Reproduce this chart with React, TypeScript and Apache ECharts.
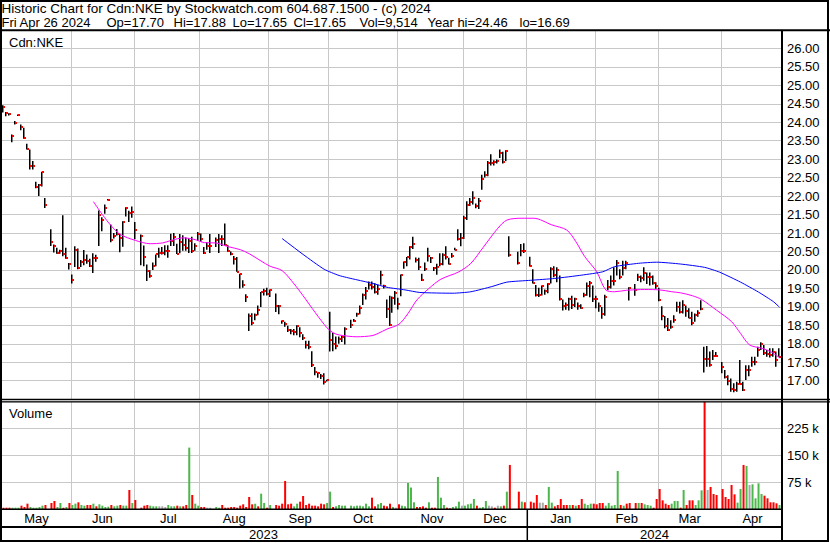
import React, { useEffect, useRef } from "react";
import * as echarts from "echarts";

// ---- data (one slot per weekday, 2023-05-01 .. 2024-04-26; null = exchange holiday) ----
const hi = [
  24.46, 24.28, 24.24, 23.67, 24.03, 24.21, 23.94, 23.85, 23.42, 23.26,
  22.95, 22.39, 22.33, 22.66, 21.95, null, 21.10, 20.69, 20.60, 20.55,
  21.48, 20.60, 20.19, 19.88, 20.64, 20.58, 20.27, 20.54, 20.42, 20.30,
  20.45, 20.41, 21.61, 21.43, 21.77, 21.92, 21.23, 21.00, 21.11, 20.98,
  21.32, 21.70, 21.60, 21.72, 21.30, null, 20.96, 20.66, 20.15, 19.99,
  20.20, 20.42, 20.60, 20.62, 20.67, 20.67, 20.98, 21.00, 20.71, 20.97,
  20.94, 20.88, 20.85, 20.90, 20.72, 21.03, 20.99, 20.62, 20.75, 20.97,
  null, 20.88, 20.97, 20.94, 21.26, 20.67, 20.50, 20.38, 20.35, 19.90,
  19.72, 19.34, 18.82, 18.83, 18.82, 19.04, 19.40, 19.49, 19.52, 19.47,
  null, 19.36, 19.05, 18.63, 18.60, 18.49, 18.40, 18.40, 18.50, 18.45,
  18.26, 18.08, 18.08, 17.80, 17.37, 17.22, 17.18, 17.20, 17.03, 18.87,
  18.30, 18.20, 18.20, 18.22, 18.45, null, 18.65, 18.67, 18.84, 19.04,
  19.36, 19.54, 19.69, 19.69, 19.64, 19.60, 19.98, 19.60, 19.20, 19.30,
  19.28, 19.43, 19.25, 19.88, 20.23, 20.35, 20.64, 20.90, 20.34, 20.33,
  19.90, 20.20, 20.60, 20.35, 20.08, 20.17, 20.45, 20.45, 20.64, 20.33,
  20.46, 20.60, 21.10, 21.00, 21.47, 21.86, 21.95, 22.13, 21.80, 21.95,
  22.58, 22.67, 22.95, 23.13, 22.97, 22.99, 23.26, 23.20, 23.24, 20.91,
  null, null, 20.49, 20.70, 20.72, null, 20.36, 20.02, 19.59, 19.52,
  19.58, 19.47, 19.64, 20.07, 20.10, 20.07, 19.85, 19.20, 19.12, 19.25,
  19.30, 19.25, 19.12, 19.07, 19.38, 19.66, 19.70, 19.58, 19.30, 19.12,
  19.00, 19.33, 19.73, 19.85, 20.07, 20.27, 20.02, 20.25, 20.25, 19.53,
  null, 19.62, 19.90, 19.85, 20.07, 19.93, 19.93, 19.85, 19.67, 19.52,
  19.02, 18.75, 18.70, 18.64, 18.77, 19.14, 19.14, 19.18, 19.04, 18.96,
  18.87, 18.82, 18.91, 19.18, 17.92, 17.94, 17.79, 17.83, 17.78, null,
  17.51, 17.29, 17.15, 17.06, 16.93, 16.97, 17.56, 16.97, 17.42, 17.42,
  17.65, 17.65, 17.92, 18.04, 17.97, 17.83, 17.88, 17.88, 17.79, 17.88,
];
const lo = [
  24.26, 24.16, 24.18, 23.46, 23.94, 24.17, 23.78, 23.55, 23.26, 22.72,
  22.72, 22.21, 22.00, 22.26, 21.68, null, 20.65, 20.47, 20.44, 20.44,
  20.37, 20.30, 20.01, 19.63, 20.08, 20.02, 20.08, 20.13, 20.17, 20.08,
  19.92, 20.22, 20.65, 21.05, 21.52, 21.88, 20.75, 20.85, 20.93, 20.48,
  20.63, 21.45, 21.30, 21.41, 20.83, null, 20.13, 20.10, 19.70, 19.79,
  20.00, 20.10, 20.33, 20.42, 20.40, 20.33, 20.65, 20.65, 20.43, 20.45,
  20.52, 20.52, 20.46, 20.46, 20.52, 20.79, 20.76, 20.43, 20.55, 20.46,
  null, 20.62, 20.46, 20.65, 20.67, 20.49, 20.40, 20.15, 19.95, 19.50,
  19.52, 19.13, 18.35, 18.50, 18.64, 18.77, 19.00, 19.31, 19.31, 19.27,
  null, 18.86, 18.80, 18.54, 18.46, 18.32, 18.26, 18.23, 18.23, 18.18,
  18.10, 17.87, 17.85, 17.37, 17.15, 17.08, 17.05, 16.90, 16.98, 17.79,
  17.80, 17.85, 18.00, 18.05, 17.98, null, 18.43, 18.60, 18.73, 18.80,
  19.05, 19.20, 19.47, 19.47, 19.36, 19.33, 19.60, 19.50, 18.70, 18.48,
  18.84, 19.06, 18.93, 19.29, 20.03, 20.10, 20.28, 20.57, 20.20, 20.00,
  19.70, 19.97, 20.23, 20.19, 19.97, 19.87, 20.10, 20.13, 20.28, 20.15,
  20.33, 20.53, 20.80, 20.64, 20.84, 21.35, 21.73, 21.77, 21.67, 21.65,
  22.17, 22.50, 22.54, 22.83, 22.83, 22.88, 23.03, 22.88, 22.95, 20.36,
  null, null, 20.15, 20.37, 20.46, null, 20.09, 19.63, 19.28, 19.27,
  19.31, 19.33, 19.37, 19.63, 19.80, 19.67, 19.17, 18.90, 18.92, 18.90,
  18.94, 19.00, 18.92, 18.95, 19.26, 19.30, 19.26, 19.13, 18.96, 18.87,
  18.68, 18.76, 19.45, 19.50, 19.58, 19.85, 19.75, 19.85, 20.02, 19.17,
  null, 19.30, 19.70, 19.67, 19.71, 19.62, 19.58, 19.60, 19.49, 19.15,
  18.64, 18.42, 18.35, 18.41, 18.57, 18.87, 18.82, 18.82, 18.73, 18.69,
  18.50, 18.60, 18.73, 18.91, 17.22, 17.38, 17.38, 17.56, 17.65, null,
  17.20, 17.06, 16.88, 16.70, 16.69, 16.70, 16.90, 16.72, 17.02, 17.12,
  17.38, 17.42, 17.65, 17.83, 17.70, 17.65, 17.63, 17.65, 17.38, 17.65,
];
const cl = [
  24.41, 24.26, 24.21, 23.63, 23.99, 24.19, 23.86, 23.57, 23.28, 22.81,
  22.81, 22.25, 22.30, 22.66, 21.76, null, 20.75, 20.66, 20.46, 20.50,
  20.42, 20.31, 20.15, 19.74, 20.53, 20.06, 20.22, 20.27, 20.25, 20.10,
  20.33, 20.32, 21.50, 21.36, 21.68, 21.90, 20.80, 20.92, 20.98, 20.86,
  21.30, 21.67, 21.53, 21.57, 21.09, null, 20.93, 20.35, 19.97, 19.84,
  20.10, 20.42, 20.45, 20.45, 20.50, 20.50, 20.78, 20.90, 20.43, 20.75,
  20.67, 20.59, 20.78, 20.50, 20.64, 20.96, 20.84, 20.47, 20.65, 20.65,
  null, 20.80, 20.83, 20.85, 20.67, 20.51, 20.44, 20.30, 19.95, 19.90,
  19.58, 19.28, 18.76, 18.57, 18.79, 18.92, 19.40, 19.43, 19.34, 19.45,
  null, 19.02, 19.02, 18.61, 18.53, 18.37, 18.35, 18.31, 18.48, 18.30,
  18.15, 17.97, 17.91, 17.43, 17.23, 17.20, 17.12, 16.96, 17.01, 18.11,
  18.00, 17.95, 18.14, 18.18, 18.40, null, 18.50, 18.63, 18.80, 18.98,
  19.33, 19.44, 19.60, 19.53, 19.41, 19.48, 19.86, 19.57, 18.93, 18.52,
  19.23, 19.37, 19.08, 19.85, 20.22, 20.35, 20.63, 20.70, 20.27, 20.09,
  19.73, 20.03, 20.38, 20.33, 20.06, 20.09, 20.15, 20.40, 20.36, 20.16,
  20.38, 20.54, 20.83, 20.86, 21.42, 21.77, 21.85, 21.94, 21.72, 21.87,
  22.45, 22.58, 22.90, 22.90, 22.92, 22.95, 23.17, 22.92, 23.22, 20.40,
  null, null, 20.19, 20.52, 20.50, null, 20.10, 19.65, 19.31, 19.31,
  19.56, 19.42, 19.61, 20.02, 19.85, 20.00, 19.21, 19.03, 19.05, 19.20,
  19.05, 19.20, 19.03, 18.98, 19.33, 19.56, 19.65, 19.20, 19.22, 19.02,
  18.80, 19.28, 19.55, 19.70, 19.70, 20.20, 19.80, 20.05, 20.18, 19.50,
  null, 19.47, 19.80, 19.77, 19.92, 19.82, 19.82, 19.65, 19.56, 19.18,
  18.75, 18.49, 18.38, 18.46, 18.64, 19.00, 18.86, 19.04, 18.88, 18.71,
  18.55, 18.77, 18.84, 18.95, 17.60, 17.60, 17.43, 17.66, 17.66, null,
  17.37, 17.10, 17.00, 16.78, 16.74, 16.90, 16.92, 16.74, 17.30, 17.30,
  17.52, 17.52, 17.84, 17.99, 17.76, 17.73, 17.70, 17.77, 17.57, 17.65,
];
// volume in thousands of shares
const volK = [
  3.7, 3.7, 3.7, 3.7, 3.7, 3.7, 9.3, 5.6, 14.9, 5.6,
  3.7, 3.7, 5.6, 9.3, 11.2, null, 16.8, 22.4, 5.6, 16.8,
  3.7, 5.6, 16.8, 11.2, 14.9, 18.7, 11.2, 9.3, 11.2, 11.2,
  14.9, 7.5, 13.1, 9.3, 5.6, 6.5, 11.2, 7.5, 9.3, 11.2,
  9.3, 9.3, 53.2, 16.8, 25.2, null, 3.7, 9.3, 11.2, 9.3,
  7.5, 7.5, 7.5, 7.5, 5.6, 11.2, 7.5, 7.5, 9.3, 7.5,
  7.5, 11.2, 171.7, 39.2, 14.9, 9.3, 5.6, 5.6, 3.7, 3.7,
  null, 5.6, 3.7, 11.2, 3.7, 3.7, 5.6, 5.6, 3.7, 9.3,
  13.1, 5.6, 33.6, 13.1, 14.9, 7.5, 42.9, 16.8, 3.7, 11.2,
  null, 11.2, 9.3, 14.9, 78.4, 13.1, 14.9, 7.5, 14.9, 20.5,
  36.4, 11.2, 14.9, 9.3, 9.3, 7.5, 14.9, 13.1, 16.8, 48.5,
  5.6, 7.5, 11.2, 9.3, 9.3, null, 9.3, 7.5, 9.3, 9.3,
  7.5, 14.9, 7.5, 31.7, 7.5, 13.1, 16.8, 9.3, 7.5, 14.9,
  5.6, 3.7, 13.1, 9.3, 7.5, 72.8, 60, 18.7, 5.6, 5.6,
  7.5, 3.7, 18.7, 3.7, 3.7, 89.6, 31.7, 11.2, 3.7, 1.9,
  5.6, 7.5, 20.5, 9.3, 9.3, 13.1, 14.9, 28, 9.3, 3.7,
  5.6, 22.4, 9.3, 7.5, 3.7, 9.3, 7.5, 9.3, 48.5, 123.2,
  null, null, 48.5, 20.5, 18.7, null, 20.5, 17.7, 39.2, 17.7,
  17.7, 11.2, 61.6, 17.7, 7.5, 11.2, 28, 11.2, 11.2, 11.2,
  11.2, 9.3, 11.2, 28, 14.9, 11.2, 14.9, 14.9, 13.1, 16.8,
  16.8, 9.3, 16.8, 9.3, 11.2, 106.4, 11.2, 9.3, 14.9, 16.8,
  null, 16.8, 16.8, 16.8, 13.1, 11.2, 9.3, 3.7, 28, 56,
  24.3, 14.9, 11.2, 14.9, 22.4, 22.4, 3.7, 53.2, 11.2, 24.3,
  24.3, 11.2, 24.3, 52.2, 305, 53.2, 61.6, 42, 39.2, null,
  56, 33.6, 28, 67.2, 41, 17.7, 56, 123.2, 120.4, 67.2,
  69, 29.9, 71.8, 42, 37.3, 29.9, 18.7, 18.7, 15.9, 11.2,
];
// r = down, g = up, n = unchanged, - = no trading
const volDir =
  "rrrgggrrrg" + "ggggr-rrgg" + "rgrggrggrr" + "grggggrggr" + "ggrgr-rrrg" +
  "ggnnngggrg" + "rrgrggrrnn" + "-ggrrrrrrr" + "rrrrgrggrg" + "-rrrrrrggr" +
  "rrrrrrrrgg" + "rgggg-gggg" + "gggrrggrrr" + "gnrgggggrr" + "rrgrrgggrr" +
  "gggnggggrg" + "ggnnrngrgr" + "--rgr-rrrn" + "nrggrrrrrg" + "rgrrgggrrr" +
  "rgggggrgrr" + "-rgrgggrrr" + "rrrgggrgrr" + "rgggrnrrr-" + "rrrrrggrgn" +
  "ggggrrrrrg";

// moving averages: [slot, value]
const maShort = [
  [30, 21.85], [33, 21.5], [36, 21.19], [39, 20.96], [44, 20.8], [49, 20.71], [53, 20.73],
  [56, 20.8], [60, 20.87], [64, 20.82], [67, 20.74], [71, 20.73], [75, 20.63], [79, 20.55],
  [82, 20.44], [86, 20.24], [89, 20.1], [93, 19.98], [97, 19.62], [100, 19.3], [104, 18.85],
  [108, 18.43], [110, 18.3], [112, 18.24], [118, 18.19], [123, 18.22], [125, 18.28],
  [128, 18.4], [132, 18.53], [135, 18.82], [138, 19.19], [142, 19.5], [146, 19.75],
  [152, 19.95], [156, 20.18], [160, 20.6], [165, 21.13], [168, 21.35], [173, 21.4],
  [177, 21.4], [183, 21.22], [188, 21.08], [191, 20.77], [194, 20.36], [198, 19.95],
  [201, 19.46], [204, 19.41], [208, 19.45], [214, 19.47], [219, 19.46], [223, 19.41],
  [226, 19.38], [230, 19.3], [233, 19.2], [238, 18.91], [243, 18.6], [246, 18.28],
  [249, 17.97], [253, 17.88], [256, 17.79], [259, 17.62],
];
const maLong = [
  [93, 20.85], [100, 20.42], [107, 20.02], [112, 19.85], [117, 19.75], [123, 19.64],
  [128, 19.53], [134, 19.46], [139, 19.39], [150, 19.37], [156, 19.41], [163, 19.55],
  [168, 19.67], [176, 19.72], [184, 19.77], [193, 19.86], [200, 19.95], [204, 20.09],
  [212, 20.18], [218, 20.21], [226, 20.16], [234, 20.07], [239, 19.94], [246, 19.67],
  [252, 19.4], [257, 19.14], [259, 18.99],
];

const monthNames = ["May", "Jun", "Jul", "Aug", "Sep", "Oct", "Nov", "Dec", "Jan", "Feb", "Mar", "Apr"];
const monthStartSlot = [0, 23, 44, 66, 89, 109, 132, 154, 175, 198, 219, 240];
const slotCount = 260;
const yearNames = ["2023", "2024"];

const header1 = "Historic Chart for Cdn:NKE by Stockwatch.com 604.687.1500 - (c) 2024";
const header2 = ["Fri Apr 26 2024", "Op=17.70", "Hi=17.88", "Lo=17.65", "Cl=17.65", "Vol=9,514", "Year hi=24.46", "lo=16.69"];
const header2X = [1, 106, 173, 232, 293, 359, 427, 519];

const FONT = "'Liberation Sans', Arial, sans-serif";

export default function App() {
  const ref = useRef<HTMLDivElement>(null);
  useEffect(() => {
    if (!ref.current) return;
    const chart = echarts.init(ref.current, null, { renderer: "svg" });

    const days: string[] = [];
    let d = new Date(Date.UTC(2023, 4, 1));
    while (days.length < slotCount) {
      const wd = d.getUTCDay();
      if (wd !== 0 && wd !== 6) days.push(d.toISOString().slice(0, 10));
      d = new Date(d.getTime() + 86400000);
    }
    const labelAt: Record<number, string> = {};
    monthStartSlot.forEach((s, k) => {
      const e = k + 1 < monthStartSlot.length ? monthStartSlot[k + 1] : slotCount;
      labelAt[Math.floor((s + e) / 2)] = monthNames[k];
    });
    const boundary = new Set(monthStartSlot.slice(1));

    const ohlc: number[][] = [];
    for (let i = 0; i < slotCount; i++) {
      if (hi[i] != null) ohlc.push([i, hi[i] as number, lo[i] as number, cl[i] as number]);
    }
    const colorOf: Record<string, string> = { r: "#ff0000", g: "#4cb84c", n: "#a8a8a8" };
    const volData = volK.map((v, i) =>
      v == null ? null : { value: v * 1000, itemStyle: { color: colorOf[volDir[i]] || "#a8a8a8" } }
    );

    const gridLine = { show: true, lineStyle: { color: "#c8c8c8", width: 1 } };
    const xBase = (gi: number) => ({
      type: "category" as const,
      gridIndex: gi,
      data: days,
      boundaryGap: true,
      axisLine: { show: false },
      axisTick: { show: false },
      splitLine: { ...gridLine, interval: (idx: number) => boundary.has(idx) },
    });

    const txt = (text: string, x: number, y: number, align = "left", size = 13) => ({
      type: "text",
      z: 100,
      style: { text, x, y, fill: "#000", font: `${size}px ${FONT}`, textAlign: align, textVerticalAlign: "middle" },
    });
    const ln = (x1: number, y1: number, x2: number, y2: number, w: number) => ({
      type: "line",
      z: 99,
      shape: { x1, y1, x2, y2 },
      style: { stroke: "#000", lineWidth: w },
    });

    chart.setOption({
      animation: false,
      backgroundColor: "#fff",
      grid: [
        { left: 2, top: 29.9, width: 779, height: 369.3 },
        { left: 2, top: 401.7, width: 779, height: 107.3 },
      ],
      xAxis: [
        { ...xBase(0), axisLabel: { show: false } },
        {
          ...xBase(1),
          axisLabel: {
            show: true,
            interval: (idx: number) => labelAt[idx] !== undefined,
            formatter: (_v: string, idx: number) => labelAt[idx] || "",
            fontSize: 13,
            fontFamily: FONT,
            color: "#000",
            margin: 3,
          },
        },
      ],
      yAxis: [
        {
          type: "value",
          gridIndex: 0,
          position: "right",
          min: 16.5,
          max: 26.5,
          interval: 0.5,
          axisLine: { show: false },
          axisTick: { show: false },
          splitLine: gridLine,
          axisLabel: {
            formatter: (v: number) => (v < 16.9 || v > 26.1 ? "" : v.toFixed(2)),
            fontSize: 13,
            fontFamily: FONT,
            color: "#000",
            margin: 6,
          },
        },
        {
          type: "value",
          gridIndex: 1,
          position: "right",
          min: 0,
          max: 300000,
          interval: 75000,
          axisLine: { show: false },
          axisTick: { show: false },
          splitLine: gridLine,
          axisLabel: {
            formatter: (v: number) => (v <= 0 || v >= 300000 ? "" : v / 1000 + " k"),
            fontSize: 13,
            fontFamily: FONT,
            color: "#000",
            margin: 6,
          },
        },
      ],
      series: [
        {
          type: "custom",
          xAxisIndex: 0,
          yAxisIndex: 0,
          z: 2,
          data: ohlc,
          encode: { x: 0, y: [1, 2, 3] },
          renderItem: (_p: any, api: any) => {
            const i = api.value(0);
            const pH = api.coord([i, api.value(1)]);
            const pL = api.coord([i, api.value(2)]);
            const pC = api.coord([i, api.value(3)]);
            const bw = api.size([1, 0])[0];
            const left = Math.round(pH[0] - bw / 2);
            return {
              type: "group",
              children: [
                {
                  type: "rect",
                  shape: { x: left, y: pH[1], width: 1.5, height: Math.max(1, pL[1] - pH[1]) },
                  style: { fill: "#000" },
                },
                {
                  type: "rect",
                  shape: { x: left + 1, y: Math.round(pC[1] - 1), width: 2, height: 2 },
                  style: { fill: "#ff0000" },
                },
              ],
            };
          },
        },
        {
          type: "line",
          xAxisIndex: 0,
          yAxisIndex: 0,
          z: 3,
          data: maShort,
          showSymbol: false,
          smooth: 0.3,
          lineStyle: { color: "#ff00ff", width: 1 },
        },
        {
          type: "line",
          xAxisIndex: 0,
          yAxisIndex: 0,
          z: 3,
          data: maLong,
          showSymbol: false,
          smooth: 0.2,
          lineStyle: { color: "#0000ff", width: 1 },
        },
        {
          type: "bar",
          xAxisIndex: 1,
          yAxisIndex: 1,
          barWidth: 2,
          data: volData,
        },
      ],
      graphic: [
        { type: "rect", z: 99, shape: { x: 1, y: 1, width: 827, height: 540 }, style: { fill: "none", stroke: "#000", lineWidth: 2 } },
        ln(0, 30.3, 830, 30.3, 2),
        ln(0, 399.5, 830, 399.5, 1.5),
        ln(0, 401.8, 830, 401.8, 1.2),
        ln(782, 30, 782, 542, 2),
        ln(0, 509.3, 782, 509.3, 1.5),
        ln(0, 527, 782, 527, 2),
        ln(527.3, 509, 527.3, 541, 1.5),
        txt(header1, 1.5, 8, "left", 13.5),
        ...header2.map((t, k) => txt(t, header2X[k] + 0.5, 22)),
        txt("Cdn:NKE", 9, 42),
        txt("Volume", 9, 413),
        txt(yearNames[0], 263.5, 534.5, "center"),
        txt(yearNames[1], 654.5, 534.5, "center"),
      ],
    });
    return () => chart.dispose();
  }, []);
  return <div ref={ref} style={{ position: "absolute", left: 0, top: 0, width: 830, height: 543 }} />;
}
